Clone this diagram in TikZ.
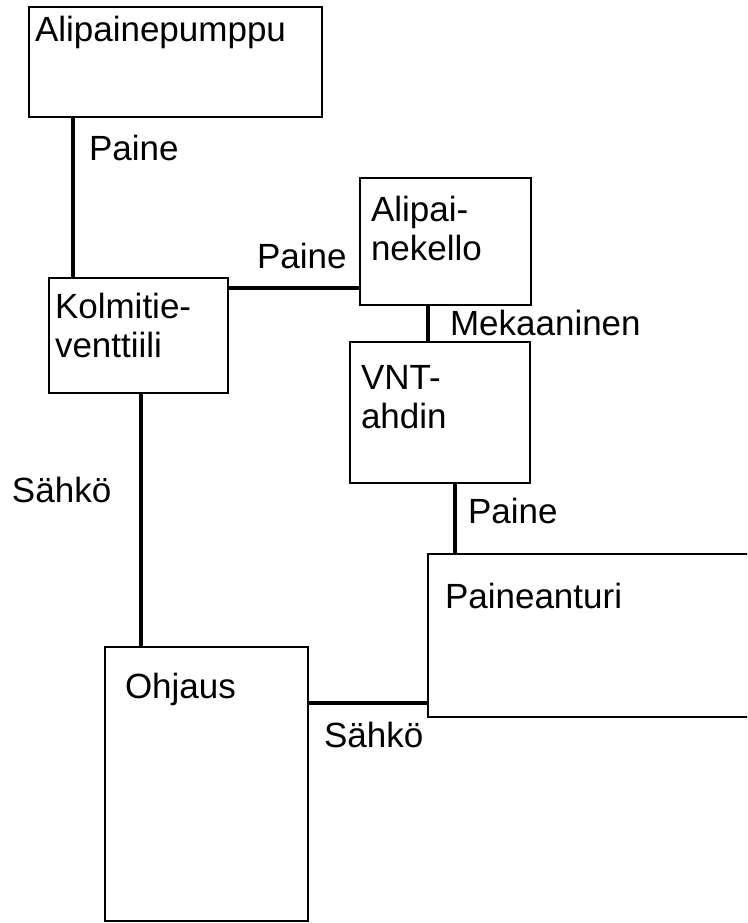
\documentclass[tikz,border=0pt]{standalone}
\usepackage{fontspec}
\setmainfont{Liberation Sans}
\begin{document}
\begin{tikzpicture}[x=1pt,y=-1pt,
  box/.style={draw=black, line width=2.6pt, fill=white, inner sep=0pt, outer sep=0pt,
    anchor=north west, minimum width=#1},
  txt/.style={inner sep=0pt, outer sep=0pt, anchor=base west, align=left,
    font=\fontsize{35}{39}\selectfont},
  link/.style={draw=black, line width=3.4pt}]
  \useasboundingbox (0,0) rectangle (747,923);
  \clip (0,0) rectangle (747,923);

  % component boxes
  \node[box=293pt, minimum height=110pt] (pump)   at (29,7)    {};
  \node[box=179pt, minimum height=115pt] (valve)  at (49,278)  {};
  \node[box=171pt, minimum height=127pt] (gauge)  at (360,178) {};
  \node[box=180pt, minimum height=141pt] (vnt)    at (350,342) {};
  \node[box=340pt, minimum height=163pt] (sensor) at (428,554) {};
  \node[box=203pt, minimum height=274pt] (ctrl)   at (105,647) {};

  % box titles (base anchor sits on the last line)
  \node[txt] (pumpT)   at (35,42)   {Alipainepumppu};
  \node[txt] (valveT)  at (55,357)  {Kolmitie-\\venttiili};
  \node[txt] (gaugeT)  at (371,260) {Alipai-\\nekello};
  \node[txt] (vntT)    at (361,428) {VNT-\\ahdin};
  \node[txt] (sensorT) at (445,608) {Paineanturi};
  \node[txt] (ctrlT)   at (125,698) {Ohjaus};

  % connections
  \draw[link] ([xshift=44pt]pump.south west)   -- ([xshift=24pt]valve.north west);
  \draw[link] ([yshift=-10pt]valve.north east) -- ([yshift=-110pt]gauge.north west);
  \draw[link] ([xshift=68pt]gauge.south west)  -- ([xshift=78pt]vnt.north west);
  \draw[link] ([xshift=105pt]vnt.south west)   -- ([xshift=27pt]sensor.north west);
  \draw[link] ([xshift=92pt]valve.south west)  -- ([xshift=36pt]ctrl.north west);
  \draw[link] ([yshift=-56pt]ctrl.north east)  -- ([yshift=-149pt]sensor.north west);

  % connection labels
  \node[txt] (l1) at (89,160)  {Paine};
  \node[txt] (l2) at (257,268) {Paine};
  \node[txt] (l3) at (450,335) {Mekaaninen};
  \node[txt] (l4) at (468,523) {Paine};
  \node[txt] (l5) at (12,502)  {Sähkö};
  \node[txt] (l6) at (324,747) {Sähkö};
\end{tikzpicture}
\end{document}
